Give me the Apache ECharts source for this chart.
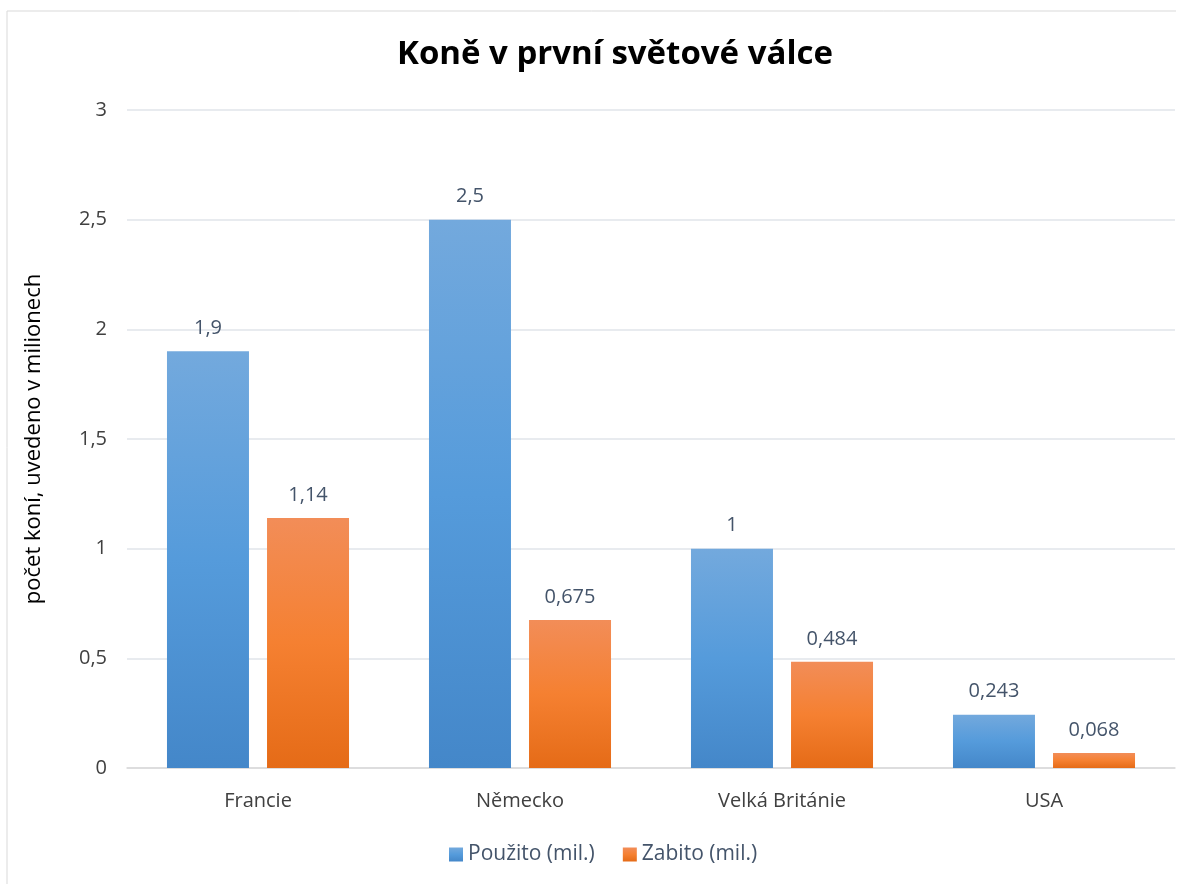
<!DOCTYPE html>
<html><head><meta charset="utf-8">
<script src="https://cdn.jsdelivr.net/npm/echarts@6/dist/echarts.min.js"></script>
<style>html,body{margin:0;padding:0;background:#fff}#c{width:1190px;height:884px}</style>
</head><body><div id="c"></div>
<script>
const categories = ['Francie', 'Německo', 'Velká Británie', 'USA'];
const usedValues = [1.9, 2.5, 1, 0.243];
const killedValues = [1.14, 0.675, 0.484, 0.068];
const seriesNames = ['Použito (mil.)', 'Zabito (mil.)'];
const yTicks = [0, 0.5, 1, 1.5, 2, 2.5, 3];

const fmt = v => String(v).replace('.', ',');
const font = '"Open Sans", "Noto Sans", sans-serif';
const chart = echarts.init(document.getElementById('c'));
const grad = (a, b, c) => new echarts.graphic.LinearGradient(0, 0, 0, 1, [
  {offset: 0, color: a}, {offset: 0.5, color: b}, {offset: 1, color: c}]);
chart.setOption({
  animation: false,
  backgroundColor: '#fff',
  graphic: [{
    type: 'polyline', silent: true,
    shape: {points: [[7, 884], [7, 11], [1176, 11]]},
    style: {stroke: '#d9d9d9', lineWidth: 1, fill: null}
  }],
  title: {
    text: 'Koně v první světové válce', left: 392, top: 33,
    textStyle: {fontFamily: font, fontSize: 33, fontWeight: 'bold', color: '#000'}
  },
  legend: {
    bottom: 14, left: 444, itemWidth: 14, itemHeight: 14, itemGap: 28,
    icon: 'rect',
    textStyle: {fontFamily: font, fontSize: 21, color: '#44546a'}
  },
  grid: {left: 127, right: 15, top: 110, bottom: 116},
  xAxis: {
    type: 'category', data: categories,
    axisLine: {lineStyle: {color: '#d9d9d9', width: 1.5}},
    axisTick: {show: false},
    axisLabel: {fontFamily: font, fontSize: 20, color: '#404040', margin: 23}
  },
  yAxis: {
    type: 'value', min: 0, max: 3, interval: 0.5,
    name: 'počet koní, uvedeno v milionech', nameLocation: 'middle', nameGap: 82,
    nameTextStyle: {fontFamily: font, fontSize: 22, color: '#000'},
    axisLine: {show: false}, axisTick: {show: false},
    axisLabel: {fontFamily: font, fontSize: 20, color: '#404040', margin: 20,
      formatter: v => yTicks.includes(v) ? fmt(v) : ''},
    splitLine: {lineStyle: {color: '#e1e4ea', width: 1.5}}
  },
  series: [{
    name: seriesNames[0], type: 'bar', data: usedValues,
    barWidth: 82, barGap: '22%',
    itemStyle: {color: grad('#73a9dd', '#559bdb', '#4487c9')},
    label: {show: true, position: 'top', distance: 13, fontFamily: font, fontSize: 20, color: '#44546a', formatter: p => fmt(p.value)}
  }, {
    name: seriesNames[1], type: 'bar', data: killedValues,
    barWidth: 82, barGap: '22%',
    itemStyle: {color: grad('#f28d58', '#f58031', '#e56b17')},
    label: {show: true, position: 'top', distance: 13, fontFamily: font, fontSize: 20, color: '#44546a', formatter: p => fmt(p.value)}
  }]
});
</script></body></html>
